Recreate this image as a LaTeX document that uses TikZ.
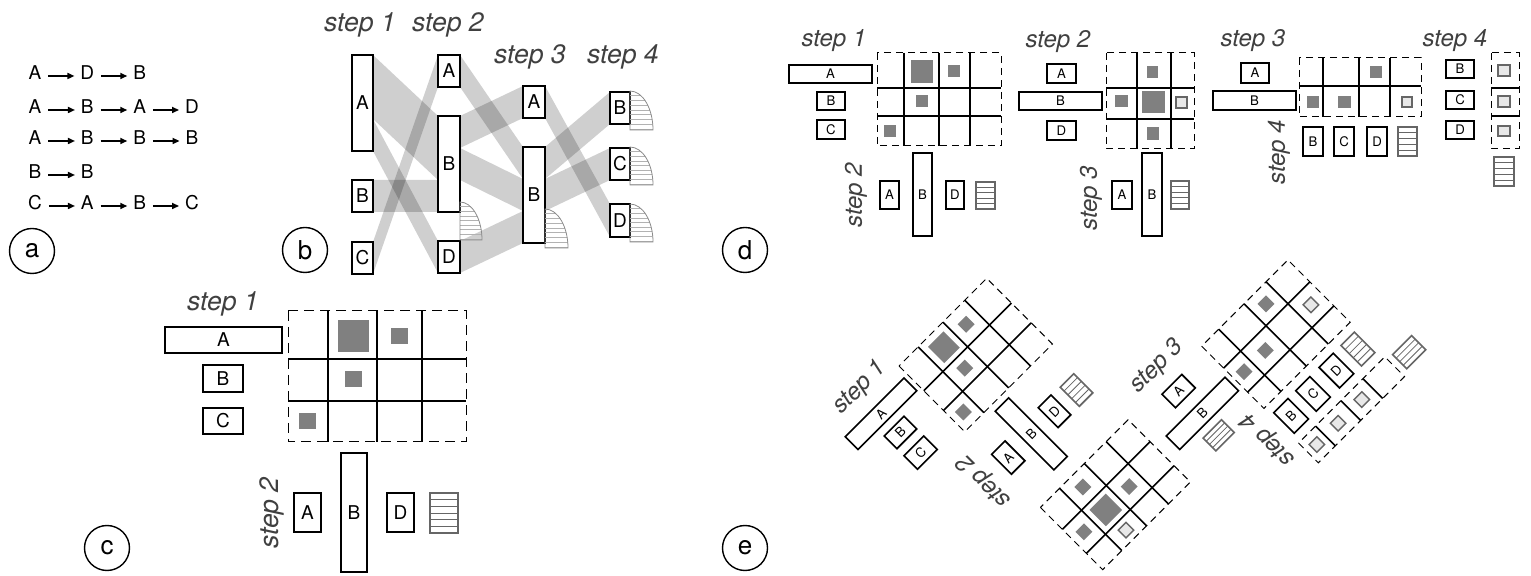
\documentclass[tikz,border=0pt]{standalone}
\usepackage{fontspec}
\setmainfont{TeX Gyre Heros}
\usetikzlibrary{arrows.meta,calc}
\definecolor{sqgray}{gray}{0.5}
\definecolor{ltgray}{gray}{0.91}
\definecolor{hgray}{gray}{0.4}
\definecolor{stepgray}{gray}{0.25}
\tikzset{
 every node/.style={inner sep=0pt,outer sep=0pt},
 boxL/.style={draw,fill=white,line width=1pt,font=\fontsize{9.5}{10}\selectfont},
 boxS/.style={draw,fill=white,line width=0.8pt,font=\fontsize{6.6}{7}\selectfont},
 hatchL/.style={draw=hgray,fill=white,line width=1pt},
 hatchS/.style={draw=hgray,fill=white,line width=0.8pt},
 stripe/.style={draw=hgray,line width=0.4pt},
 stepL/.style={font=\fontsize{13.3}{15}\selectfont\itshape,text=stepgray},
 stepS/.style={font=\fontsize{12}{14}\selectfont\itshape,text=stepgray},
 gline/.style={line width=0.8pt},
 glineL/.style={line width=1pt},
 gdash/.style={line width=0.5pt,dash pattern=on 3.5pt off 2.5pt},
 gdashL/.style={line width=0.5pt,dash pattern=on 5pt off 3pt},
 dsq/.style={fill=sqgray},
 lsq/.style={fill=ltgray,draw=hgray,line width=0.7pt},
 band/.style={fill=black,fill opacity=0.19},
 qline/.style={draw=black!30,line width=0.3pt},
 qout/.style={draw=black!45,line width=0.4pt},
 circ/.style={draw,circle,minimum size=22.5pt,line width=0.7pt,font=\fontsize{13}{14}\selectfont},
 ltr/.style={font=\fontsize{9.5}{10}\selectfont,text height=6.8pt,text depth=0pt},
 arr/.style={-{Triangle[length=3.5pt,width=3pt]},line width=0.8pt},
}
% box: [style]{name}{x1}{y1}{x2}{y2}{text}
\newcommand{\bx}[7][boxL]{\node[#1,minimum width={(#5-#3)*0.5pt},minimum height={(#6-#4)*0.5pt}] (#2) at ({(#3+#5)/2},{(#4+#6)/2}) {#7};}
% hatched box: [style]{name}{x1}{y1}{x2}{y2}{number of lines}
\newcommand{\hbx}[7][hatchL]{\node[#1,minimum width={(#5-#3)*0.5pt},minimum height={(#6-#4)*0.5pt}] (#2) at ({(#3+#5)/2},{(#4+#6)/2}) {};
 \foreach \kk in {1,...,#7}{\draw[stripe] ($(#2.north west)!{\kk/(#7+1)}!(#2.south west)$) -- ($(#2.north east)!{\kk/(#7+1)}!(#2.south east)$);}}
\newcommand{\sq}[5][dsq]{\path[#1] (#2,#3) rectangle (#4,#5);}
\newcommand{\gb}[5][gdash]{\draw[#1] (#2,#3) rectangle (#4,#5);}
% flow band between two nodes
\newcommand{\band}[6]{\fill[band] ($(#1.north east)!#2!(#1.south east)$) -- ($(#4.north west)!#5!(#4.south west)$) -- ($(#4.north west)!#6!(#4.south west)$) -- ($(#1.north east)!#3!(#1.south east)$) -- cycle;}
% quarter ellipse end marker: x0 ytop x1 ybot
\newcommand{\qell}[4]{%
 \begin{scope}
  \clip (#1,#4) -- (#1,#2) arc[start angle=90,end angle=0,x radius={(#3-#1)*0.5pt},y radius={(#4-#2)*0.5pt}] -- cycle;
  \foreach \kk in {1,...,8}{\draw[qline] (#1,{#2+\kk*(#4-#2)/8.2}) -- (#3,{#2+\kk*(#4-#2)/8.2});}
 \end{scope}
 \draw[qout] (#1,#4) -- (#1,#2) arc[start angle=90,end angle=0,x radius={(#3-#1)*0.5pt},y radius={(#4-#2)*0.5pt}] -- cycle;}
% step 1 block of panel d (local coordinates, origin = grid top-left)
\newcommand{\stepone}[1]{%
 \gb{0}{0}{124}{93}
 \sq{34}{7}{56}{30}\sq{71}{12}{83}{24}\sq{39}{42}{51}{54}\sq{7}{72}{19}{84}
 \foreach \v in {27,62,93}{\draw[gline] (\v,0)--(\v,93);}
 \foreach \h in {35,63}{\draw[gline] (0,\h)--(124,\h);}
 \bx[boxS]{#1rA}{-88}{12}{-5}{30}{A}
 \bx[boxS]{#1rB}{-60}{39}{-32}{57}{B}
 \bx[boxS]{#1rC}{-60}{67}{-32}{86}{C}
 \bx[boxS]{#1cA}{3}{128}{22}{156}{A}
 \bx[boxS]{#1cB}{36}{100}{55}{183}{B}
 \bx[boxS]{#1cD}{69}{128}{87}{156}{D}
 \hbx[hatchS]{#1cH}{99}{129}{118}{156}{4}
 \node[stepS] (#1s1) at (-43,-12) {step 1};
 \node[stepS,rotate=90] (#1s2) at (-21,142) {step 2};
}
\begin{document}
\begin{tikzpicture}[x=0.5pt,y=-0.5pt]
\useasboundingbox (0,0) rectangle (1531,576);
\fill[white] (0,0) rectangle (1531,576);

% ---------------- panel a
\foreach \r/\y/\l in {1/73/{A,D,B},2/107/{A,B,A,D},3/138/{A,B,B,B},4/172/{B,B},5/203/{C,A,B,C}}{
  \foreach \c [count=\i] in \l {
    \node[ltr] (a\r\i) at ({35+(\i-1)*52.3},\y) {\c};
  }
}
\foreach \r/\n in {1/3,2/4,3/4,4/2,5/4}{
  \foreach \i in {2,...,\n}{
    \pgfmathtruncatemacro{\j}{\i-1}
    \draw[arr] ([xshift=3.5pt,yshift=-1.5pt]a\r\j.east) -- ([xshift=-3pt,yshift=-1.5pt]a\r\i.west);
  }
}
\node[circ] (ca) at (32,251) {a};

% ---------------- panel b
\node[stepL] (bs1) at (360,25) {step 1};
\node[stepL] (bs2) at (448,25) {step 2};
\node[stepL] (bs3) at (530,57) {step 3};
\node[stepL] (bs4) at (623,57) {step 4};
\bx{b1A}{352}{55}{373}{151}{A}
\bx{b1B}{352}{180}{373}{212}{B}
\bx{b1C}{352}{242}{373}{274}{C}
\bx{b2A}{438}{55}{460}{87}{A}
\bx{b2B}{438}{116}{460}{212}{B}
\bx{b2D}{438}{241}{460}{273}{D}
\bx{b3A}{523}{86}{545}{118}{A}
\bx{b3B}{523}{147}{545}{243}{B}
\bx{b4B}{610}{92}{630}{124}{B}
\bx{b4C}{610}{148}{630}{180}{C}
\bx{b4D}{610}{204}{630}{237}{D}
\band{b1A}{0}{2/3}{b2B}{0}{2/3}
\band{b1A}{2/3}{1}{b2D}{0}{1}
\band{b1B}{0}{1}{b2B}{2/3}{1}
\band{b1C}{0}{1}{b2A}{0}{1}
\band{b2A}{0}{1}{b3B}{0}{1/3}
\band{b2B}{0}{1/3}{b3A}{0}{1}
\band{b2B}{1/3}{2/3}{b3B}{1/3}{2/3}
\band{b2D}{0}{1}{b3B}{2/3}{1}
\band{b3A}{0}{1}{b4D}{0}{1}
\band{b3B}{0}{1/3}{b4B}{0}{1}
\band{b3B}{1/3}{2/3}{b4C}{0}{1}
\qell{460}{202}{482}{240}
\qell{545}{209}{568}{248}
\qell{630}{91}{653}{130}
\qell{630}{147}{653}{185}
\qell{630}{204}{653}{242}
\node[circ] (cb) at (305,250) {b};

% ---------------- panel c
\node[stepL] (cs1) at (223,304) {step 1};
\bx{cA}{165}{327}{282}{353}{A}
\bx{cB}{203}{365}{243}{392}{B}
\bx{cC}{203}{408}{243}{434}{C}
\gb[gdashL]{288}{311}{466}{442}
\sq{338}{320}{369}{352}\sq{391}{328}{408}{344}\sq{345}{371}{362}{387}\sq{299}{413}{316}{429}
\foreach \v in {328,377,422}{\draw[glineL] (\v,311)--(\v,442);}
\foreach \h in {359,401}{\draw[glineL] (288,\h)--(466,\h);}
\bx{cdA}{294}{493}{321}{532}{A}
\bx{cdB}{341}{453}{367}{572}{B}
\bx{cdD}{387}{493}{414}{532}{D}
\hbx{cdH}{430}{493}{458}{533}{5}
\node[stepL,rotate=90] (cs2) at (272,513) {step 2};
\node[circ] (cc) at (107,548) {c};

% ---------------- panel d
\begin{scope}[shift={(877,53)}]
 \stepone{d1}
\end{scope}
\begin{scope}[shift={(1106,53)}]
 \gb{0}{0}{88}{96}
 \sq{41}{13}{52}{25}\sq{9}{42}{22}{54}\sq{36}{38}{59}{60}\sq[lsq]{70}{44}{81}{55}\sq{41}{74}{53}{87}
 \foreach \v in {31,65}{\draw[gline] (\v,0)--(\v,96);}
 \foreach \h in {35,66}{\draw[gline] (0,\h)--(88,\h);}
 \bx[boxS]{d2rA}{-59}{11}{-30}{30}{A}
 \bx[boxS]{d2rB}{-87}{39}{-4}{57}{B}
 \bx[boxS]{d2rD}{-59}{68}{-30}{87}{D}
 \bx[boxS]{d2cA}{6}{128}{26}{156}{A}
 \bx[boxS]{d2cB}{36}{100}{56}{183}{B}
 \hbx[hatchS]{d2cH}{65}{128}{83}{156}{4}
 \node[stepS] (d2s2) at (-48,-11) {step 2};
 \node[stepS,rotate=90] (d2s3) at (-15,145) {step 3};
\end{scope}
\begin{scope}[shift={(1299,58)}]
 \gb{0}{0}{122}{59}
 \sq{71}{8}{83}{20}\sq{8}{38}{20}{50}\sq{39}{38}{52}{50}\sq[lsq]{103}{39}{113}{49}
 \foreach \v in {24,60,91}{\draw[gline] (\v,0)--(\v,59);}
 \draw[gline] (0,28)--(122,28);
 \bx[boxS]{d3rA}{-58}{5}{-30}{25}{A}
 \bx[boxS]{d3rB}{-86}{33}{-3}{52}{B}
 \bx[boxS]{d3cB}{4}{69}{24}{98}{B}
 \bx[boxS]{d3cC}{35}{69}{55}{98}{C}
 \bx[boxS]{d3cD}{68}{69}{88}{98}{D}
 \hbx[hatchS]{d3cH}{99}{69}{118}{98}{4}
 \node[stepS] (d3s3) at (-46,-17) {step 3};
 \node[stepS,rotate=90] (d3s4) at (-20,94) {step 4};
\end{scope}
\begin{scope}[shift={(1491,53)}]
 \gb{0}{0}{28}{96}
 \sq[lsq]{7}{12}{19}{23}\sq[lsq]{7}{43}{19}{54}\sq[lsq]{7}{73}{19}{83}
 \foreach \h in {35,63}{\draw[gline] (0,\h)--(28,\h);}
 \bx[boxS]{d4rB}{-45}{7}{-17}{25}{B}
 \bx[boxS]{d4rC}{-45}{38}{-17}{56}{C}
 \bx[boxS]{d4rD}{-45}{68}{-17}{86}{D}
 \hbx[hatchS]{d4cH}{3}{104}{23}{133}{4}
 \node[stepS] (d4s4) at (-36,-12) {step 4};
\end{scope}
\node[circ] (cd) at (745,250) {d};

% ---------------- panel e (one frame turned by 45 degrees)
\begin{scope}[shift={(899,366)},rotate=45,transform shape]
 \stepone{e1}
 % grid of step 2 (transposed)
 \gb{0}{200}{124}{288}
 \sq{7.5}{242}{19.5}{254}\sq{38.5}{209.5}{50.5}{221.5}\sq{71.5}{242}{83.5}{254}
 \sq{33}{236.5}{56}{259.5}\sq[lsq]{39}{271}{50}{282}
 \foreach \v in {27,62,93}{\draw[gline] (\v,200)--(\v,288);}
 \foreach \h in {231,265}{\draw[gline] (0,\h)--(124,\h);}
 % step 3 labels
 \bx[boxS]{e3rA}{166}{206}{194}{225}{A}
 \bx[boxS]{e3rB}{139.5}{238.5}{222.5}{257.5}{B}
 \hbx[hatchS]{e3rH}{164}{266}{190}{284}{3}
 \node[stepS] (e3s3) at (182,183) {step 3};
 % grid of step 3
 \gb{228}{200}{350}{288}
 \sq{297.5}{209.5}{309.5}{221.5}\sq{234}{242}{246}{254}\sq{264}{242}{276}{254}\sq[lsq]{329}{242.5}{340}{253.5}
 \foreach \v in {252,288,319}{\draw[gline] (\v,200)--(\v,288);}
 \foreach \h in {231,265}{\draw[gline] (228,\h)--(350,\h);}
 % step 4 labels
 \bx[boxS]{e4cB}{232}{298}{252}{327}{B}
 \bx[boxS]{e4cC}{263}{298}{283}{327}{C}
 \bx[boxS]{e4cD}{296}{298}{316}{327}{D}
 \hbx[hatchS]{e4cH}{327}{298}{346}{327}{4}
 \node[stepS,rotate=90] (e4s4) at (209,313) {step 4};
 % grid of step 4 (transposed)
 \gb{228}{337}{350}{365}
 \sq[lsq]{234.5}{345.5}{245.5}{356.5}\sq[lsq]{264.5}{345.5}{275.5}{356.5}\sq[lsq]{298}{345.5}{309}{356.5}
 \foreach \v in {252,288,319}{\draw[gline] (\v,337)--(\v,365);}
 \hbx[hatchS]{e5H}{357}{341}{384}{361}{3}
\end{scope}
\node[circ] (ce) at (745,548) {e};
\end{tikzpicture}
\end{document}
